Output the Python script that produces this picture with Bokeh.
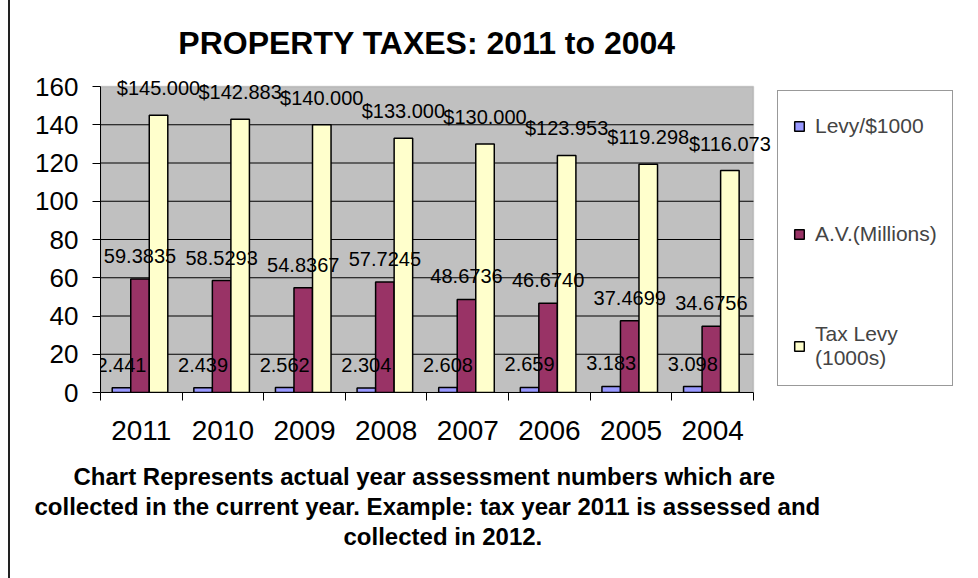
from bokeh.plotting import figure
from bokeh.models import (ColumnDataSource, FixedTicker, LinearAxis, Legend, LegendItem,
                          Title, LabelSet, Label, BoxAnnotation)
from bokeh.core.properties import value
from bokeh.embed import file_html
from bokeh.resources import INLINE

years = ["2011", "2010", "2009", "2008", "2007", "2006", "2005", "2004"]
levy = [2.441, 2.439, 2.562, 2.304, 2.608, 2.659, 3.183, 3.098]
av = [59.3835, 58.5293, 54.8367, 57.7245, 48.6736, 46.6740, 37.4699, 34.6756]
tax = [145.000, 142.883, 140.000, 133.000, 130.000, 123.953, 119.298, 116.073]
y_ticks = [0, 20, 40, 60, 80, 100, 120, 140, 160]
series_names = ["Levy/$1000", "A.V.(Millions)", "Tax Levy\n(1000s)"]
footnote = ["Chart Represents actual year assessment numbers which are",
            "collected in the current year. Example: tax year 2011 is assessed and",
            "collected in 2012."]
title_text = "PROPERTY TAXES: 2011 to 2004"

n = len(years)
centers = [i + 0.5 for i in range(n)]
W = 0.227
offs = [-0.243, -0.016, 0.211]
cols = ["#9999FF", "#993366", "#FFFFCC"]
fields = ["levy", "av", "tax"]
series = [levy, av, tax]
fmts = ["{:.3f}", "{:.4f}", "${:.3f}"]

data = dict(years=years)
for f, vals, off, fmt in zip(fields, series, offs, fmts):
    data[f] = vals
    data[f + "_x"] = [c + off for c in centers]
    data[f + "_lbl"] = [fmt.format(v) for v in vals]
src = ColumnDataSource(data)

FONT = "Liberation Sans"
YMAX = y_ticks[-1]
p = figure(x_range=(0, 10.757), y_range=(0, 204.97), title=None,
           width=968, height=578, output_backend="svg", toolbar_location=None,
           x_axis_location=None, y_axis_location=None,
           min_border_left=90, min_border_right=0, min_border_top=0, min_border_bottom=186,
           styles={"margin-left": "8px", "border-left": "2px solid #222222"})
p.outline_line_color = None
p.background_fill_color = "#FFFFFF"
p.xgrid.visible = False
p.ygrid.visible = False

# plot area
p.add_layout(BoxAnnotation(left=0, right=n, bottom=0, top=YMAX, fill_color="#C0C0C0",
                           fill_alpha=1, line_color="#808080", line_width=1.5, level="underlay"))
p.segment(x0=[0] * (len(y_ticks) - 2), x1=[n] * (len(y_ticks) - 2),
          y0=y_ticks[1:-1], y1=y_ticks[1:-1], line_color="#000000", line_width=1)

ya = LinearAxis(ticker=FixedTicker(ticks=y_ticks), bounds=(0, YMAX),
                major_tick_in=0, major_tick_out=8, minor_tick_in=0, minor_tick_out=0,
                axis_line_color="#000000", major_label_text_font=FONT,
                major_label_text_font_size="26px", major_label_text_color="#000000",
                major_label_standoff=14)
p.add_layout(ya, "left")

tick_axis = LinearAxis(ticker=FixedTicker(ticks=list(range(n + 1))), bounds=(0, n),
                       major_label_overrides={i: "" for i in range(n + 1)},
                       major_tick_in=0, major_tick_out=8, minor_tick_in=0, minor_tick_out=0,
                       axis_line_color="#000000", major_label_text_font_size="1px",
                       major_label_standoff=0)
p.add_layout(tick_axis, "below")
cat_axis = LinearAxis(ticker=FixedTicker(ticks=centers),
                      major_label_overrides={c: y for c, y in zip(centers, years)},
                      major_tick_in=0, major_tick_out=0, minor_tick_in=0, minor_tick_out=0,
                      axis_line_color=None, major_label_text_font=FONT,
                      major_label_text_font_size="28px", major_label_text_color="#000000",
                      major_label_standoff=20)
p.add_layout(cat_axis, "below")

rends = []
for f, c in zip(fields, cols):
    r = p.vbar(x=f + "_x", top=f, width=W, bottom=0, source=src,
               fill_color=c, line_color="#000000", line_width=1.5)
    rends.append(r)
for f in fields:
    p.add_layout(LabelSet(x=f + "_x", y=f, text=f + "_lbl", source=src,
                          text_align="center", text_baseline="bottom", y_offset=16,
                          text_font=value(FONT), text_font_size=value("20px"),
                          text_color="#000000"))

p.add_layout(Label(x=n / 2, y=YMAX, y_offset=44, text=title_text, text_align="center",
                   text_baseline="middle", text_font=FONT, text_font_size="32px",
                   text_font_style="bold", text_color="#000000"))

legend = Legend(items=[LegendItem(label=nm, renderers=[r]) for nm, r in zip(series_names, rends)],
                location=(677, 6), margin=0, padding=15, spacing=68, label_height=40,
                glyph_width=12, glyph_height=12, label_standoff=10,
                label_text_font=FONT, label_text_font_size="21px",
                label_text_line_height=1.4,
                border_line_color="#333333", border_line_width=1,
                background_fill_color="#FFFFFF", background_fill_alpha=1)
p.add_layout(legend, "center")

# spacer between the year labels and the note
p.add_layout(Title(text=" ", text_font_size="1px", standoff=15), "below")
note_offsets = [-27, -66, 243]
for line, off in zip(footnote, note_offsets):
    t = Title(text=line, align="left", offset=off, text_font=FONT, text_font_size="24px",
              text_font_style="bold", text_color="#000000", standoff=1)
    p.add_layout(t, "below")

open("out.html", "w").write(file_html(p, INLINE))
